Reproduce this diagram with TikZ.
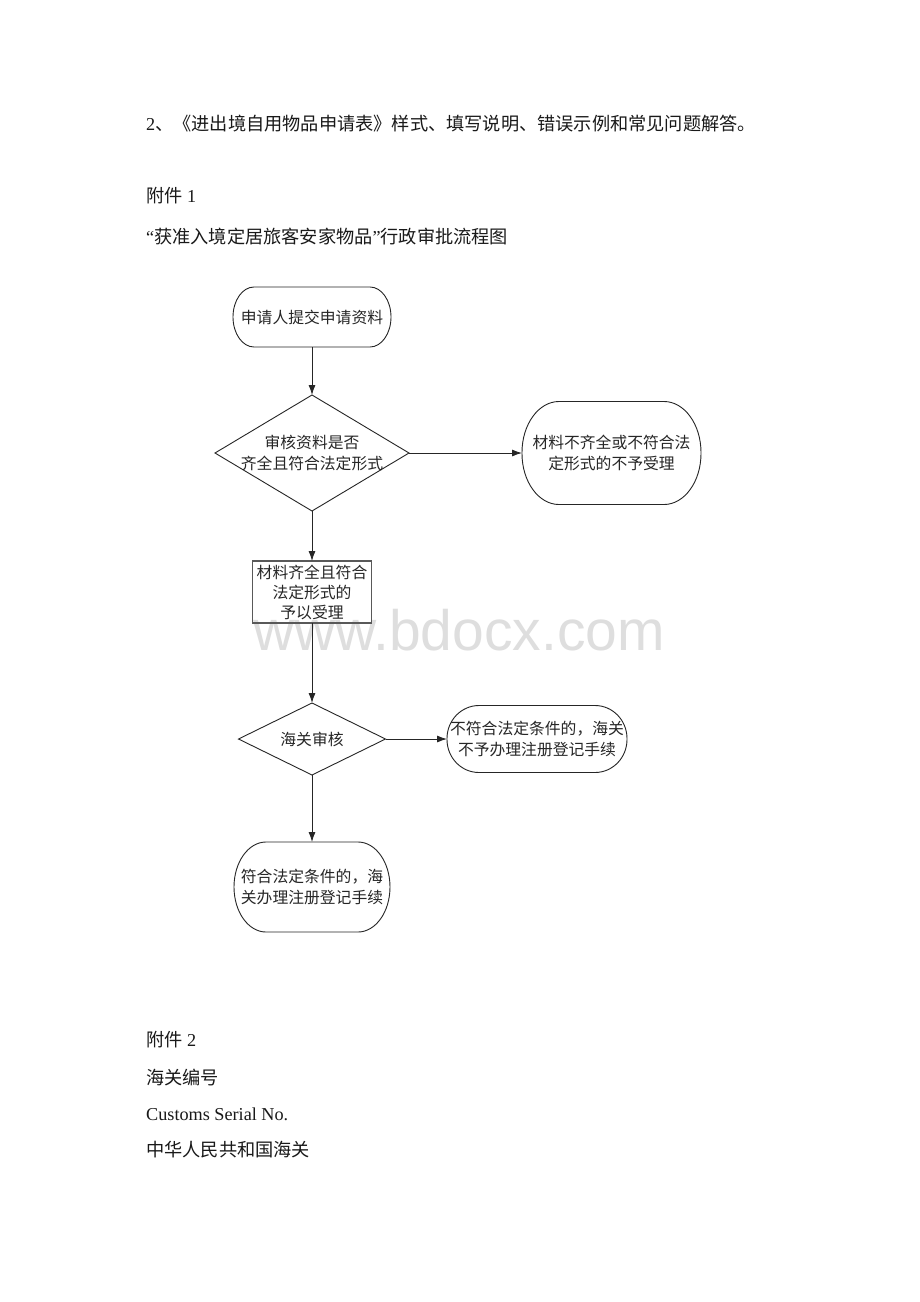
\documentclass[tikz,border=0pt]{standalone}
\usepackage{fontspec}
\setmainfont{Liberation Serif}
\newfontfamily\cjk{Noto Sans CJK SC}
\newfontfamily\wmfont{Liberation Sans}
\usetikzlibrary{arrows.meta}
\tikzset{
  flow/.style={draw=black!85, line width=0.9pt},
  box/.style={draw=none, inner sep=0pt, outer sep=0pt, align=center,
    font=\cjk\fontsize{15.8}{21.5}\selectfont, text=black!85},
  arr/.style={draw=black!85, line width=0.9pt, -{Latex[length=10pt,width=7pt]}},
  body/.style={anchor=base west, inner sep=0pt, font=\fontsize{18.2}{22}\selectfont, text=black!90},
}
\newcommand\capsule[3]{%
  \draw[flow] ([xshift=#2pt]#1.north west) -- ([xshift=-#2pt]#1.north east)
    .. controls +(0.552*#2,0) and +(0,0.552*#3) .. ([yshift=-#3pt]#1.north east)
    -- ([yshift=#3pt]#1.south east)
    .. controls +(0,-0.552*#3) and +(0.552*#2,0) .. ([xshift=-#2pt]#1.south east)
    -- ([xshift=#2pt]#1.south west)
    .. controls +(-0.552*#2,0) and +(0,-0.552*#3) .. ([yshift=#3pt]#1.south west)
    -- ([yshift=-#3pt]#1.north west)
    .. controls +(0,0.552*#3) and +(-0.552*#2,0) .. ([xshift=#2pt]#1.north west) -- cycle;}
\newcommand\diam[1]{\draw[flow] (#1.north) -- (#1.east) -- (#1.south) -- (#1.west) -- cycle;}
\begin{document}
\begin{tikzpicture}[x=1pt,y=1pt]
\path[use as bounding box, fill=white] (0,0) rectangle (920,-1302);

% watermark
\node[anchor=base, inner sep=0pt, font=\wmfont\fontsize{57}{60}\selectfont, text=black!13] (wm) at (459,-650) {www.bdocx.com};

% body text
\node[body] (t1) at (146,-130) {2{\cjk 、《进出境自用物品申请表》样式、填写说明、错误示例和常见问题解答。}};
\node[body] (t2) at (146,-202) {{\cjk 附件} 1};
\node[body] (t3) at (146,-243) {“{\cjk 获准入境定居旅客安家物品}”{\cjk 行政审批流程图}};
\node[body] (t4) at (146,-1046) {{\cjk 附件} 2};
\node[body] (t5) at (146,-1084) {{\cjk 海关编号}};
\node[body] (t6) at (146,-1120) {Customs Serial No.};
\node[body] (t7) at (146,-1156) {{\cjk 中华人民共和国海关}};

% flowchart nodes
\node[box, minimum width=158pt, minimum height=60pt] (start) at (312,-317) {申请人提交申请资料};
\capsule{start}{21}{30}

\node[box, minimum width=194pt, minimum height=116pt] (d1) at (312,-453) {审核资料是否\\齐全且符合法定形式};
\diam{d1}

\node[box, minimum width=179pt, minimum height=103pt] (r1) at (611.5,-453) {材料不齐全或不符合法\\定形式的不予受理};
\capsule{r1}{37}{51}

\node[box, minimum width=119pt, minimum height=62pt, font=\cjk\fontsize{15.8}{20}\selectfont] (acc) at (312,-592) {材料齐全且符合\\法定形式的\\予以受理};
\draw[draw=black!65, line width=1.6pt] (acc.north west) rectangle (acc.south east);

\node[box, minimum width=147pt, minimum height=72pt] (d2) at (312,-739) {海关审核};
\diam{d2}

\node[box, minimum width=180pt, minimum height=67pt] (r2) at (537,-739) {不符合法定条件的，海关\\不予办理注册登记手续};
\capsule{r2}{32}{33}

\node[box, minimum width=156pt, minimum height=90pt] (fin) at (312,-887) {符合法定条件的，海\\关办理注册登记手续};
\capsule{fin}{32}{45}

% connectors
\draw[arr] (start.south) -- (d1.north);
\draw[arr] (d1.east) -- (r1.west);
\draw[arr] (d1.south) -- (acc.north);
\draw[arr] (acc.south) -- (d2.north);
\draw[arr] (d2.east) -- (r2.west);
\draw[arr] (d2.south) -- (fin.north);
\end{tikzpicture}
\end{document}
